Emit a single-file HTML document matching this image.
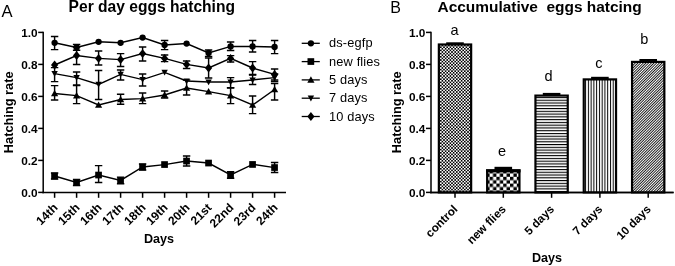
<!DOCTYPE html>
<html><head><meta charset="utf-8"><title>Figure</title>
<style>html,body{margin:0;padding:0;background:#fff}svg{display:block}</style></head>
<body>
<svg width="675" height="266" viewBox="0 0 675 266">
<defs>
<pattern id="p1" width="3.2" height="3.2" patternUnits="userSpaceOnUse"><rect width="3.2" height="3.2" fill="#fff"/><rect x="0" y="0" width="1.6" height="1.6" fill="#000"/><rect x="1.6" y="1.6" width="1.6" height="1.6" fill="#000"/></pattern>
<pattern id="p2" width="6.8" height="6.8" patternUnits="userSpaceOnUse"><rect width="6.8" height="6.8" fill="#fff"/><rect x="0" y="0" width="3.4" height="3.4" fill="#000"/><rect x="3.4" y="3.4" width="3.4" height="3.4" fill="#000"/></pattern>
<pattern id="p3" width="4" height="2.77" patternUnits="userSpaceOnUse"><rect width="4" height="2.77" fill="#fff"/><rect x="0" y="0" width="4" height="1.1" fill="#000"/></pattern>
<pattern id="p4" width="2.76" height="4" patternUnits="userSpaceOnUse"><rect width="2.76" height="4" fill="#fff"/><rect x="0" y="0" width="1.0" height="4" fill="#000"/></pattern>
<pattern id="p5" width="1.89" height="4" patternUnits="userSpaceOnUse" patternTransform="rotate(45)"><rect width="1.89" height="4" fill="#fff"/><rect x="0" y="0" width="0.85" height="4" fill="#000"/></pattern>
</defs>
<rect width="675" height="266" fill="#fff"/>
<text x="1.6" y="16.9" font-size="16.6" font-family="Liberation Sans, Arial, sans-serif">A</text>
<text x="390.2" y="13.3" font-size="16" font-family="Liberation Sans, Arial, sans-serif">B</text>
<text x="68.6" y="12" font-size="15.6" font-family="Liberation Sans, Arial, sans-serif" font-weight="bold">Per day eggs hatching</text>
<text x="437.5" y="12.2" font-size="15.45" font-family="Liberation Sans, Arial, sans-serif" font-weight="bold" xml:space="preserve">Accumulative  eggs hatcing</text>
<g stroke="#000" stroke-width="1.5" fill="none">
<path d="M43.2 31.65V193.15"/>
<path d="M42.45 192.4H286"/>
<path d="M38.2 192.40H43.2"/>
<path d="M38.2 160.40H43.2"/>
<path d="M38.2 128.40H43.2"/>
<path d="M38.2 96.40H43.2"/>
<path d="M38.2 64.40H43.2"/>
<path d="M38.2 32.40H43.2"/>
<path d="M54.6 192.4V197.8"/>
<path d="M76.6 192.4V197.8"/>
<path d="M98.6 192.4V197.8"/>
<path d="M120.6 192.4V197.8"/>
<path d="M142.6 192.4V197.8"/>
<path d="M164.6 192.4V197.8"/>
<path d="M186.6 192.4V197.8"/>
<path d="M208.6 192.4V197.8"/>
<path d="M230.6 192.4V197.8"/>
<path d="M252.6 192.4V197.8"/>
<path d="M274.6 192.4V197.8"/>
</g>
<text x="37.6" y="196.6" font-size="11.8" text-anchor="end" font-family="Liberation Sans, Arial, sans-serif" font-weight="bold">0.0</text>
<text x="37.6" y="164.6" font-size="11.8" text-anchor="end" font-family="Liberation Sans, Arial, sans-serif" font-weight="bold">0.2</text>
<text x="37.6" y="132.6" font-size="11.8" text-anchor="end" font-family="Liberation Sans, Arial, sans-serif" font-weight="bold">0.4</text>
<text x="37.6" y="100.6" font-size="11.8" text-anchor="end" font-family="Liberation Sans, Arial, sans-serif" font-weight="bold">0.6</text>
<text x="37.6" y="68.6" font-size="11.8" text-anchor="end" font-family="Liberation Sans, Arial, sans-serif" font-weight="bold">0.8</text>
<text x="37.6" y="36.6" font-size="11.8" text-anchor="end" font-family="Liberation Sans, Arial, sans-serif" font-weight="bold">1.0</text>
<text transform="translate(12.8,112.3) rotate(-90)" text-anchor="middle" font-size="12.8" font-family="Liberation Sans, Arial, sans-serif" font-weight="bold">Hatching rate</text>
<text x="159" y="243" text-anchor="middle" font-size="12.6" font-family="Liberation Sans, Arial, sans-serif" font-weight="bold">Days</text>
<text transform="translate(58.4,208.4) rotate(-45)" text-anchor="end" font-size="12" font-family="Liberation Sans, Arial, sans-serif" font-weight="bold">14th</text>
<text transform="translate(80.4,208.4) rotate(-45)" text-anchor="end" font-size="12" font-family="Liberation Sans, Arial, sans-serif" font-weight="bold">15th</text>
<text transform="translate(102.4,208.4) rotate(-45)" text-anchor="end" font-size="12" font-family="Liberation Sans, Arial, sans-serif" font-weight="bold">16th</text>
<text transform="translate(124.4,208.4) rotate(-45)" text-anchor="end" font-size="12" font-family="Liberation Sans, Arial, sans-serif" font-weight="bold">17th</text>
<text transform="translate(146.4,208.4) rotate(-45)" text-anchor="end" font-size="12" font-family="Liberation Sans, Arial, sans-serif" font-weight="bold">18th</text>
<text transform="translate(168.4,208.4) rotate(-45)" text-anchor="end" font-size="12" font-family="Liberation Sans, Arial, sans-serif" font-weight="bold">19th</text>
<text transform="translate(190.4,208.4) rotate(-45)" text-anchor="end" font-size="12" font-family="Liberation Sans, Arial, sans-serif" font-weight="bold">20th</text>
<text transform="translate(212.4,208.4) rotate(-45)" text-anchor="end" font-size="12" font-family="Liberation Sans, Arial, sans-serif" font-weight="bold">21st</text>
<text transform="translate(234.4,208.4) rotate(-45)" text-anchor="end" font-size="12" font-family="Liberation Sans, Arial, sans-serif" font-weight="bold">22nd</text>
<text transform="translate(256.4,208.4) rotate(-45)" text-anchor="end" font-size="12" font-family="Liberation Sans, Arial, sans-serif" font-weight="bold">23rd</text>
<text transform="translate(278.4,208.4) rotate(-45)" text-anchor="end" font-size="12" font-family="Liberation Sans, Arial, sans-serif" font-weight="bold">24th</text>
<g stroke="#000" stroke-width="1.45" fill="none">
<polyline points="54.6,93.5 76.6,95.6 98.6,105.0 120.6,99.5 142.6,98.6 164.6,95.0 186.6,88.0 208.6,91.6 230.6,95.6 252.6,105.0 274.6,89.5"/>
<path d="M54.6 85.6V100.0M50.9 85.6H58.3M50.9 100.0H58.3"/>
<path d="M76.6 85.6V103.6M72.9 85.6H80.3M72.9 103.6H80.3"/>
<path d="M120.6 94.2V104.2M116.9 94.2H124.3M116.9 104.2H124.3"/>
<path d="M142.6 93.0V103.6M138.9 93.0H146.3M138.9 103.6H146.3"/>
<path d="M164.6 91.0V98.0M160.9 91.0H168.3M160.9 98.0H168.3"/>
<path d="M186.6 80.0V95.0M182.9 80.0H190.3M182.9 95.0H190.3"/>
<path d="M230.6 88.0V103.6M226.9 88.0H234.3M226.9 103.6H234.3"/>
<path d="M252.6 96.0V113.6M248.9 96.0H256.3M248.9 113.6H256.3"/>
<path d="M274.6 83.5V100.0M270.9 83.5H278.3M270.9 100.0H278.3"/>
</g>
<g fill="#000">
<polygon points="51.0,96.3 58.2,96.3 54.6,89.9"/>
<polygon points="73.0,98.4 80.2,98.4 76.6,92.0"/>
<polygon points="95.0,107.8 102.2,107.8 98.6,101.4"/>
<polygon points="117.0,102.3 124.2,102.3 120.6,95.9"/>
<polygon points="139.0,101.4 146.2,101.4 142.6,95.0"/>
<polygon points="161.0,97.8 168.2,97.8 164.6,91.4"/>
<polygon points="183.0,90.8 190.2,90.8 186.6,84.4"/>
<polygon points="205.0,94.4 212.2,94.4 208.6,88.0"/>
<polygon points="227.0,98.4 234.2,98.4 230.6,92.0"/>
<polygon points="249.0,107.8 256.2,107.8 252.6,101.4"/>
<polygon points="271.0,92.3 278.2,92.3 274.6,85.9"/>
</g>
<g stroke="#000" stroke-width="1.45" fill="none">
<polyline points="54.6,73.6 76.6,77.6 98.6,84.4 120.6,74.4 142.6,79.6 164.6,72.4 186.6,81.0 208.6,82.0 230.6,82.0 252.6,80.0 274.6,77.6"/>
<path d="M54.6 67.6V81.6M50.9 67.6H58.3M50.9 81.6H58.3"/>
<path d="M76.6 72.0V85.0M72.9 72.0H80.3M72.9 85.0H80.3"/>
<path d="M98.6 70.4V99.4M94.9 70.4H102.3M94.9 99.4H102.3"/>
<path d="M120.6 70.0V80.0M116.9 70.0H124.3M116.9 80.0H124.3"/>
<path d="M142.6 74.0V86.0M138.9 74.0H146.3M138.9 86.0H146.3"/>
<path d="M230.6 77.6V87.6M226.9 77.6H234.3M226.9 87.6H234.3"/>
<path d="M252.6 75.0V84.4M248.9 75.0H256.3M248.9 84.4H256.3"/>
<path d="M274.6 74.0V81.5M270.9 74.0H278.3M270.9 81.5H278.3"/>
</g>
<g fill="#000">
<polygon points="51.4,71.0 57.8,71.0 54.6,76.8"/>
<polygon points="73.4,75.0 79.8,75.0 76.6,80.8"/>
<polygon points="95.4,81.8 101.8,81.8 98.6,87.6"/>
<polygon points="117.4,71.8 123.8,71.8 120.6,77.6"/>
<polygon points="139.4,77.0 145.8,77.0 142.6,82.8"/>
<polygon points="161.4,69.8 167.8,69.8 164.6,75.6"/>
<polygon points="183.4,78.4 189.8,78.4 186.6,84.2"/>
<polygon points="205.4,79.4 211.8,79.4 208.6,85.2"/>
<polygon points="227.4,79.4 233.8,79.4 230.6,85.2"/>
<polygon points="249.4,77.4 255.8,77.4 252.6,83.2"/>
<polygon points="271.4,75.0 277.8,75.0 274.6,80.8"/>
</g>
<g stroke="#000" stroke-width="1.45" fill="none">
<polyline points="54.6,65.0 76.6,55.5 98.6,58.4 120.6,59.6 142.6,53.6 164.6,58.4 186.6,64.4 208.6,68.0 230.6,58.4 252.6,68.0 274.6,74.4"/>
<path d="M76.6 47.0V64.5M72.9 47.0H80.3M72.9 64.5H80.3"/>
<path d="M98.6 51.0V65.0M94.9 51.0H102.3M94.9 65.0H102.3"/>
<path d="M120.6 53.6V66.4M116.9 53.6H124.3M116.9 66.4H124.3"/>
<path d="M142.6 47.0V61.0M138.9 47.0H146.3M138.9 61.0H146.3"/>
<path d="M164.6 55.0V61.6M160.9 55.0H168.3M160.9 61.6H168.3"/>
<path d="M186.6 61.0V68.4M182.9 61.0H190.3M182.9 68.4H190.3"/>
<path d="M208.6 58.0V78.0M204.9 58.0H212.3M204.9 78.0H212.3"/>
<path d="M230.6 55.6V62.0M226.9 55.6H234.3M226.9 62.0H234.3"/>
<path d="M252.6 61.6V74.4M248.9 61.6H256.3M248.9 74.4H256.3"/>
<path d="M274.6 69.0V80.0M270.9 69.0H278.3M270.9 80.0H278.3"/>
</g>
<g fill="#000">
<polygon points="51.0,65.0 54.6,60.6 58.2,65.0 54.6,69.4"/>
<polygon points="73.0,55.5 76.6,51.1 80.2,55.5 76.6,59.9"/>
<polygon points="95.0,58.4 98.6,54.0 102.2,58.4 98.6,62.8"/>
<polygon points="117.0,59.6 120.6,55.2 124.2,59.6 120.6,64.0"/>
<polygon points="139.0,53.6 142.6,49.2 146.2,53.6 142.6,58.0"/>
<polygon points="161.0,58.4 164.6,54.0 168.2,58.4 164.6,62.8"/>
<polygon points="183.0,64.4 186.6,60.0 190.2,64.4 186.6,68.8"/>
<polygon points="205.0,68.0 208.6,63.6 212.2,68.0 208.6,72.4"/>
<polygon points="227.0,58.4 230.6,54.0 234.2,58.4 230.6,62.8"/>
<polygon points="249.0,68.0 252.6,63.6 256.2,68.0 252.6,72.4"/>
<polygon points="271.0,74.4 274.6,70.0 278.2,74.4 274.6,78.8"/>
</g>
<g stroke="#000" stroke-width="1.45" fill="none">
<polyline points="54.6,42.8 76.6,47.4 98.6,41.8 120.6,42.8 142.6,37.6 164.6,45.0 186.6,43.6 208.6,53.0 230.6,46.4 252.6,46.4 274.6,47.0"/>
<path d="M54.6 36.4V49.6M50.9 36.4H58.3M50.9 49.6H58.3"/>
<path d="M76.6 44.5V50.3M72.9 44.5H80.3M72.9 50.3H80.3"/>
<path d="M164.6 40.4V49.6M160.9 40.4H168.3M160.9 49.6H168.3"/>
<path d="M208.6 50.0V56.4M204.9 50.0H212.3M204.9 56.4H212.3"/>
<path d="M230.6 42.0V50.4M226.9 42.0H234.3M226.9 50.4H234.3"/>
<path d="M252.6 40.4V52.0M248.9 40.4H256.3M248.9 52.0H256.3"/>
<path d="M274.6 40.4V53.6M270.9 40.4H278.3M270.9 53.6H278.3"/>
</g>
<g fill="#000">
<circle cx="54.6" cy="42.8" r="3.15"/>
<circle cx="76.6" cy="47.4" r="3.15"/>
<circle cx="98.6" cy="41.8" r="3.15"/>
<circle cx="120.6" cy="42.8" r="3.15"/>
<circle cx="142.6" cy="37.6" r="3.15"/>
<circle cx="164.6" cy="45.0" r="3.15"/>
<circle cx="186.6" cy="43.6" r="3.15"/>
<circle cx="208.6" cy="53.0" r="3.15"/>
<circle cx="230.6" cy="46.4" r="3.15"/>
<circle cx="252.6" cy="46.4" r="3.15"/>
<circle cx="274.6" cy="47.0" r="3.15"/>
</g>
<g stroke="#000" stroke-width="1.45" fill="none">
<polyline points="54.6,176.0 76.6,182.4 98.6,175.0 120.6,180.4 142.6,167.0 164.6,164.6 186.6,161.0 208.6,163.0 230.6,175.0 252.6,164.4 274.6,167.6"/>
<path d="M54.6 173.0V179.0M50.9 173.0H58.3M50.9 179.0H58.3"/>
<path d="M76.6 179.4V185.4M72.9 179.4H80.3M72.9 185.4H80.3"/>
<path d="M98.6 165.6V182.4M94.9 165.6H102.3M94.9 182.4H102.3"/>
<path d="M120.6 177.1V183.7M116.9 177.1H124.3M116.9 183.7H124.3"/>
<path d="M142.6 164.0V170.0M138.9 164.0H146.3M138.9 170.0H146.3"/>
<path d="M186.6 156.0V166.0M182.9 156.0H190.3M182.9 166.0H190.3"/>
<path d="M230.6 171.7V178.3M226.9 171.7H234.3M226.9 178.3H234.3"/>
<path d="M274.6 162.4V172.4M270.9 162.4H278.3M270.9 172.4H278.3"/>
</g>
<g fill="#000">
<rect x="51.2" y="172.7" width="6.7" height="6.7"/>
<rect x="73.2" y="179.1" width="6.7" height="6.7"/>
<rect x="95.2" y="171.7" width="6.7" height="6.7"/>
<rect x="117.2" y="177.1" width="6.7" height="6.7"/>
<rect x="139.2" y="163.7" width="6.7" height="6.7"/>
<rect x="161.2" y="161.2" width="6.7" height="6.7"/>
<rect x="183.2" y="157.7" width="6.7" height="6.7"/>
<rect x="205.2" y="159.7" width="6.7" height="6.7"/>
<rect x="227.2" y="171.7" width="6.7" height="6.7"/>
<rect x="249.2" y="161.1" width="6.7" height="6.7"/>
<rect x="271.2" y="164.2" width="6.7" height="6.7"/>
</g>
<path d="M301.7 43.3H319.8" stroke="#000" stroke-width="1.3"/>
<g fill="#000"><circle cx="310.9" cy="43.3" r="3.15"/></g>
<text x="329" y="47.3" font-size="12.8" letter-spacing="0.15" font-family="Liberation Sans, Arial, sans-serif">ds-egfp</text>
<path d="M301.7 61.6H319.8" stroke="#000" stroke-width="1.3"/>
<g fill="#000"><rect x="307.5" y="58.2" width="6.7" height="6.7"/></g>
<text x="329" y="65.6" font-size="12.8" letter-spacing="0.15" font-family="Liberation Sans, Arial, sans-serif">new flies</text>
<path d="M301.7 79.9H319.8" stroke="#000" stroke-width="1.3"/>
<g fill="#000"><polygon points="307.3,82.7 314.5,82.7 310.9,76.3"/></g>
<text x="329" y="83.9" font-size="12.8" letter-spacing="0.15" font-family="Liberation Sans, Arial, sans-serif">5 days</text>
<path d="M301.7 98.2H319.8" stroke="#000" stroke-width="1.3"/>
<g fill="#000"><polygon points="307.7,95.6 314.1,95.6 310.9,101.4"/></g>
<text x="329" y="102.2" font-size="12.8" letter-spacing="0.15" font-family="Liberation Sans, Arial, sans-serif">7 days</text>
<path d="M301.7 116.5H319.8" stroke="#000" stroke-width="1.3"/>
<g fill="#000"><polygon points="307.3,116.5 310.9,112.1 314.5,116.5 310.9,120.9"/></g>
<text x="329" y="120.5" font-size="12.8" letter-spacing="0.15" font-family="Liberation Sans, Arial, sans-serif">10 days</text>
<g stroke="#000" stroke-width="1.5" fill="none">
<path d="M431.0 31.65V193.15"/>
<path d="M430.25 192.4H673.6"/>
<path d="M426.0 192.40H431.0"/>
<path d="M426.0 160.40H431.0"/>
<path d="M426.0 128.40H431.0"/>
<path d="M426.0 96.40H431.0"/>
<path d="M426.0 64.40H431.0"/>
<path d="M426.0 32.40H431.0"/>
<path d="M455.0 192.4V197.8"/>
<path d="M503.3 192.4V197.8"/>
<path d="M551.6 192.4V197.8"/>
<path d="M599.9 192.4V197.8"/>
<path d="M648.2 192.4V197.8"/>
</g>
<text x="425.4" y="196.6" font-size="11.8" text-anchor="end" font-family="Liberation Sans, Arial, sans-serif" font-weight="bold">0.0</text>
<text x="425.4" y="164.6" font-size="11.8" text-anchor="end" font-family="Liberation Sans, Arial, sans-serif" font-weight="bold">0.2</text>
<text x="425.4" y="132.6" font-size="11.8" text-anchor="end" font-family="Liberation Sans, Arial, sans-serif" font-weight="bold">0.4</text>
<text x="425.4" y="100.6" font-size="11.8" text-anchor="end" font-family="Liberation Sans, Arial, sans-serif" font-weight="bold">0.6</text>
<text x="425.4" y="68.6" font-size="11.8" text-anchor="end" font-family="Liberation Sans, Arial, sans-serif" font-weight="bold">0.8</text>
<text x="425.4" y="36.6" font-size="11.8" text-anchor="end" font-family="Liberation Sans, Arial, sans-serif" font-weight="bold">1.0</text>
<text transform="translate(400.6,112.3) rotate(-90)" text-anchor="middle" font-size="12.8" font-family="Liberation Sans, Arial, sans-serif" font-weight="bold">Hatching rate</text>
<text x="547" y="262" text-anchor="middle" font-size="12.6" font-family="Liberation Sans, Arial, sans-serif" font-weight="bold">Days</text>
<rect x="438.85" y="44.50" width="32.30" height="147.90" fill="url(#p1)" stroke="#000" stroke-width="2.2"/>
<rect x="446.20" y="42.30" width="17.6" height="2.30" fill="#000"/>
<rect x="487.15" y="170.40" width="32.30" height="22.00" fill="url(#p2)" stroke="#000" stroke-width="2.2"/>
<rect x="486.05" y="169.30" width="34.50" height="3.1" fill="#000"/>
<rect x="494.50" y="166.80" width="17.6" height="3.70" fill="#000"/>
<rect x="535.45" y="95.60" width="32.30" height="96.80" fill="url(#p3)" stroke="#000" stroke-width="2.2"/>
<rect x="542.80" y="92.90" width="17.6" height="2.80" fill="#000"/>
<rect x="583.75" y="79.40" width="32.30" height="113.00" fill="url(#p4)" stroke="#000" stroke-width="2.2"/>
<rect x="591.10" y="76.80" width="17.6" height="2.70" fill="#000"/>
<rect x="632.05" y="61.90" width="32.30" height="130.50" fill="url(#p5)" stroke="#000" stroke-width="2.2"/>
<rect x="639.40" y="59.00" width="17.6" height="3.00" fill="#000"/>
<path d="M430.25 192.4H673.6" stroke="#000" stroke-width="1.5"/>
<text x="454.5" y="34.8" text-anchor="middle" font-size="14.5" font-family="Liberation Sans, Arial, sans-serif">a</text>
<text x="502" y="156" text-anchor="middle" font-size="14.5" font-family="Liberation Sans, Arial, sans-serif">e</text>
<text x="548.5" y="80.6" text-anchor="middle" font-size="14.5" font-family="Liberation Sans, Arial, sans-serif">d</text>
<text x="598.8" y="68.2" text-anchor="middle" font-size="14.5" font-family="Liberation Sans, Arial, sans-serif">c</text>
<text x="644.4" y="44.2" text-anchor="middle" font-size="14.5" font-family="Liberation Sans, Arial, sans-serif">b</text>
<text transform="translate(458.3,209.9) rotate(-45)" text-anchor="end" font-size="11.7" font-family="Liberation Sans, Arial, sans-serif" font-weight="bold">control</text>
<text transform="translate(506.6,209.9) rotate(-45)" text-anchor="end" font-size="11.7" font-family="Liberation Sans, Arial, sans-serif" font-weight="bold">new flies</text>
<text transform="translate(554.9,209.9) rotate(-45)" text-anchor="end" font-size="11.7" font-family="Liberation Sans, Arial, sans-serif" font-weight="bold">5 days</text>
<text transform="translate(603.2,209.9) rotate(-45)" text-anchor="end" font-size="11.7" font-family="Liberation Sans, Arial, sans-serif" font-weight="bold">7 days</text>
<text transform="translate(651.5,209.9) rotate(-45)" text-anchor="end" font-size="11.7" font-family="Liberation Sans, Arial, sans-serif" font-weight="bold">10 days</text>
</svg>
</body></html>
